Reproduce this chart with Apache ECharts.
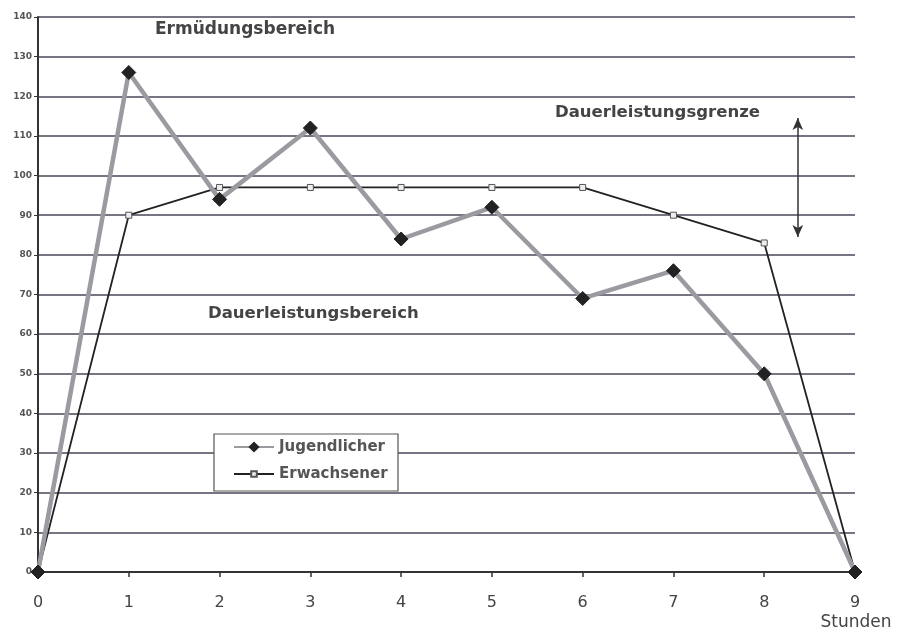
<!DOCTYPE html>
<html><head><meta charset="utf-8">
<script src="https://cdn.jsdelivr.net/npm/echarts@6/dist/echarts.min.js"></script>
<style>html,body{margin:0;padding:0;background:#fff}#c{width:897px;height:632px}</style>
</head><body><div id="c"></div>
<script>
const hours = [0,1,2,3,4,5,6,7,8,9];
const jugendlicher = [0,126,94,112,84,92,69,76,50,0];
const erwachsener = [0,90,97,97,97,97,97,90,83,0];
const yTicks = [0,10,20,30,40,50,60,70,80,90,100,110,120,130,140];
const FONT = 'DejaVu Sans';

const legendText = {color:'#555',fontSize:15,fontWeight:'bold',fontFamily:FONT,lineHeight:17};
const chart = echarts.init(document.getElementById('c'));
chart.setOption({
  backgroundColor:'#fff',
  animation:false,
  grid:{left:38,right:42,top:17,bottom:60},
  xAxis:{type:'value',min:0,max:9,interval:1,
    axisLine:{lineStyle:{color:'#333',width:2}},
    axisTick:{show:true,inside:false,length:5,lineStyle:{color:'#333',width:1.5}},
    axisLabel:{color:'#444',fontSize:16,fontFamily:FONT,margin:23},
    splitLine:{show:false}},
  yAxis:{type:'value',min:0,max:140,interval:10,
    axisLine:{show:true,lineStyle:{color:'#333',width:2}},
    axisTick:{show:true,length:4,lineStyle:{color:'#333'}},
    axisLabel:{color:'#555',fontSize:9,fontWeight:'bold',fontFamily:FONT,margin:6,
      formatter:v=>yTicks.includes(v)?String(v):''},
    splitLine:{show:true,lineStyle:{color:'#4c4658',width:1.5}}},
  legend:[
    {show:true,orient:'vertical',left:233,top:438.5,padding:0,itemWidth:40,itemHeight:14,
      textStyle:legendText,data:['Jugendlicher'],z:20},
    {show:true,orient:'vertical',left:233,top:465.5,padding:0,itemWidth:40,itemHeight:7,
      textStyle:legendText,data:['Erwachsener'],z:20}
  ],
  series:[
    {name:'Erwachsener',type:'line',data:hours.map((h,i)=>[h,erwachsener[i]]),
      lineStyle:{color:'#222',width:1.8},symbol:'rect',symbolSize:6,
      itemStyle:{color:'#eee',borderColor:'#555',borderWidth:1},z:2,
      markLine:{silent:true,symbol:['arrow','arrow'],symbolSize:[8,12],label:{show:false},
        lineStyle:{color:'#333',width:1.5,type:'solid'},
        data:[[{coord:[8.37,84.5]},{coord:[8.37,114.5]}]]}},
    {name:'Jugendlicher',type:'line',data:hours.map((h,i)=>[h,jugendlicher[i]]),
      lineStyle:{color:'#9c9aa0',width:4.5},symbol:'diamond',symbolSize:14,
      itemStyle:{color:'#222',borderColor:'#222'},z:3}
  ],
  graphic:[
    {type:'rect',shape:{x:214,y:434,width:184,height:57},z:10,
      style:{fill:'#fff',stroke:'#555',lineWidth:1.2}},
    {type:'text',x:155,y:30,style:{text:'Ermüdungsbereich',fontSize:17,fontWeight:'bold',fill:'#444',fontFamily:FONT,textVerticalAlign:'middle'}},
    {type:'text',x:555,y:113,style:{text:'Dauerleistungsgrenze',fontSize:16.5,fontWeight:'bold',fill:'#444',fontFamily:FONT,textVerticalAlign:'middle'}},
    {type:'text',x:208,y:314,style:{text:'Dauerleistungsbereich',fontSize:16.5,fontWeight:'bold',fill:'#444',fontFamily:FONT,textVerticalAlign:'middle'}},
    {type:'text',x:856,y:623,style:{text:'Stunden',fontSize:17,fill:'#444',fontFamily:FONT,textAlign:'center',textVerticalAlign:'middle'}}
  ]
});
</script></body></html>
